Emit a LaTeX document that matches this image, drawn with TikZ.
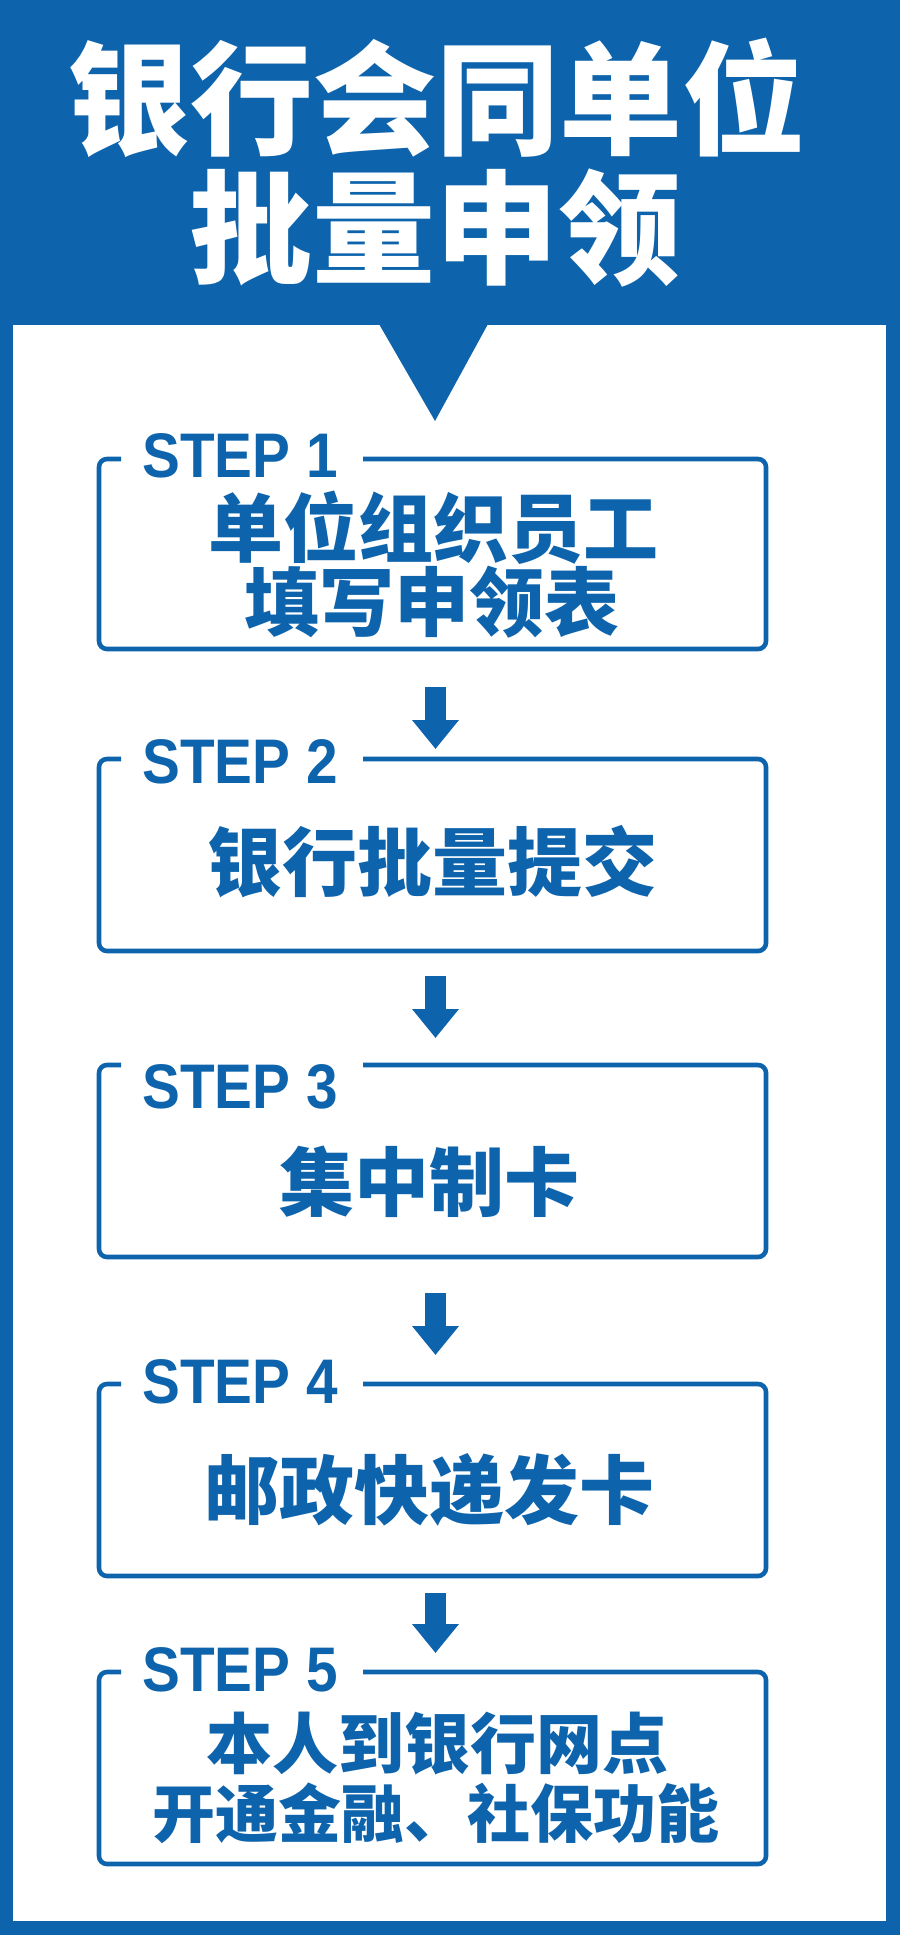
\documentclass[tikz,border=0pt]{standalone}
\usepackage{fontspec}
\usetikzlibrary{arrows.meta}
\IfFontExistsTF{Noto Sans CJK SC Black}
 {\newfontfamily\cjkfont{Noto Sans CJK SC Black}}
 {\newfontfamily\cjkfont{Noto Sans CJK SC}[UprightFont=* Bold]}
\newfontfamily\stepfont{Liberation Sans}[FakeStretch=0.9]
\definecolor{mainblue}{RGB}{14,100,172}
\newcommand\myframe[2]{\draw[stepbox] (121,#1) -| (99,#2) -| (766,#1) -- (363,#1);}
\tikzset{
  stepbox/.style={draw=mainblue, line width=4.6pt, rounded corners=8pt},
  steplabel/.style={anchor=base west, inner sep=0pt, text=mainblue,
    font=\stepfont\bfseries\fontsize{63}{63}\selectfont},
  steptext/.style={anchor=base, inner sep=0pt, text=mainblue,
    font=\cjkfont\fontsize{75}{75}\selectfont},
  steptextsmall/.style={steptext, font=\cjkfont\fontsize{66}{66}\selectfont},
  steptextsmaller/.style={steptext, font=\cjkfont\fontsize{63}{63}\selectfont},
  titletext/.style={anchor=base, inner sep=0pt, text=white,
    font=\cjkfont\fontsize{123}{123}\selectfont},
  blockarrow/.style={draw=mainblue, line width=21pt,
    -{Triangle[width=45pt,length=29pt]}}
}
\begin{document}
\begin{tikzpicture}[x=1pt,y=-1pt]
\useasboundingbox (0,0) rectangle (900,1935);
% background
\fill[mainblue] (0,0) rectangle (900,1935);
\fill[white] (12.5,325) rectangle (886,1921);
\fill[mainblue] (379,324) -- (488,324) -- (435,421) -- cycle;
% title
\node[titletext] (t1) at (436,145) {银行会同单位};
\node[titletext] (t2) at (435,274) {批量申领};
% frames
\myframe{459}{649}
\myframe{759}{951}
\myframe{1065}{1257}
\myframe{1384}{1576}
\myframe{1672}{1864}
% step labels
\node[steplabel] (l1) at (142,477) {STEP 1};
\node[steplabel] (l2) at (142,783) {STEP 2};
\node[steplabel] (l3) at (142,1108) {STEP 3};
\node[steplabel] (l4) at (142,1403) {STEP 4};
\node[steplabel] (l5) at (142,1691) {STEP 5};
% step texts
\node[steptext] (s1a) at (433,556) {单位组织员工};
\node[steptext] (s1b) at (432,630) {填写申领表};
\node[steptext] (s2) at (432,890) {银行批量提交};
\node[steptext] (s3) at (429,1210) {集中制卡};
\node[steptext] (s4) at (429,1518) {邮政快递发卡};
\node[steptextsmall] (s5a) at (437,1768) {本人到银行网点};
\node[steptextsmaller] (s5b) at (436,1837) {开通金融、社保功能};
% arrows
\coordinate (a1s) at (435.5,687);  \coordinate (a1e) at (435.5,749);
\coordinate (a2s) at (435.5,976);  \coordinate (a2e) at (435.5,1038);
\coordinate (a3s) at (435.5,1293); \coordinate (a3e) at (435.5,1355);
\coordinate (a4s) at (435.5,1593); \coordinate (a4e) at (435.5,1653);
\draw[blockarrow] (a1s) -- (a1e);
\draw[blockarrow] (a2s) -- (a2e);
\draw[blockarrow] (a3s) -- (a3e);
\draw[blockarrow] (a4s) -- (a4e);
\end{tikzpicture}
\end{document}
